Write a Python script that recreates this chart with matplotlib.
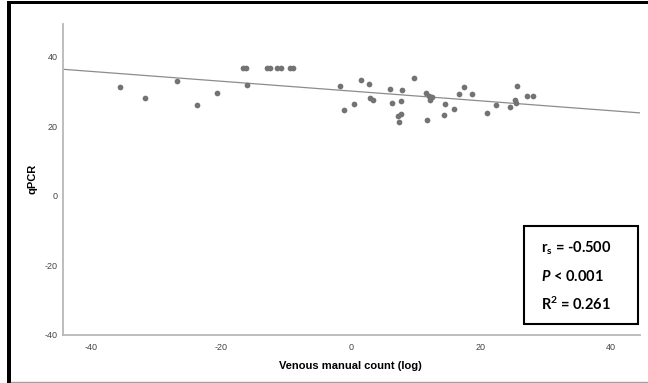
import numpy as np
import matplotlib.pyplot as plt
from matplotlib.patches import Rectangle
from matplotlib.lines import Line2D

# venous manual count (log) vs qPCR
venous = [-35.5, -31.7, -26.7, -23.7, -20.6, -16.6, -16.2, -16.0,
          -12.9, -12.4, -11.4, -10.7, -9.3, -8.9,
          -1.6, -1.1, 0.5, 1.6, 2.8, 3.0, 3.4, 6.0, 6.3, 7.8, 7.7, 7.7,
          7.2, 7.4, 9.7, 11.5, 12.0, 12.5, 12.2, 11.7, 14.5, 14.3, 15.8,
          16.7, 17.4, 18.7, 20.9, 22.4, 24.5, 25.2, 25.4, 25.6, 27.1, 28.1]
qpcr = [31.3, 28.1, 33.0, 26.0, 29.6, 36.6, 36.6, 31.9,
        36.6, 36.6, 36.6, 36.6, 36.6, 36.6,
        31.6, 24.7, 26.2, 33.2, 32.0, 28.0, 27.5, 30.6, 26.6, 30.4, 27.3, 23.4,
        23.0, 21.2, 33.9, 29.4, 28.6, 28.2, 27.6, 21.7, 26.2, 23.2, 25.0,
        29.3, 31.2, 29.3, 23.7, 25.9, 25.4, 27.5, 26.6, 31.4, 28.5, 28.7]

# fit line
slope = -0.141
intercept = 30.05

stats_lines = ["r$_\\mathrm{s}$ = -0.500", "$\\mathit{P}$ < 0.001", "R$^\\mathrm{2}$ = 0.261"]

plt.rcParams['axes.unicode_minus'] = False
plt.rcParams['mathtext.fontset'] = 'custom'
plt.rcParams['mathtext.rm'] = 'Lato:bold'
plt.rcParams['mathtext.it'] = 'Lato:bold:italic'
plt.rcParams['mathtext.bf'] = 'Lato:bold'

W, H = 648, 383
fig = plt.figure(figsize=(W / 100, H / 100), dpi=100)
ax = fig.add_axes([63 / W, 1 - 335 / H, (640 - 63) / W, (335 - 24) / H])

xlim = (-44.3, 44.5)
ax.set_xlim(*xlim)
ax.set_ylim(-40, 49.3)

xx = np.array(xlim)
ax.plot(xx, intercept + slope * xx, color='#8c8c8c', lw=0.9, zorder=2)
ax.scatter(venous, qpcr, s=17, color='#737373', linewidths=0, zorder=3)

for side in ['top', 'right']:
    ax.spines[side].set_visible(False)
for side in ['left', 'bottom']:
    ax.spines[side].set_color('#b8b8b8')
    ax.spines[side].set_linewidth(1.3)

ax.set_xticks([-40, -20, 0, 20, 40])
ax.set_yticks([-40, -20, 0, 20, 40])
ax.tick_params(length=0, labelsize=6.5, labelcolor='#444444', pad=4,
               labelfontfamily='Liberation Sans')
ax.tick_params(axis='x', pad=6)

fig.text(350 / W, 1 - 366 / H, 'Venous manual count (log)', ha='center', va='center',
         fontsize=8, fontweight='bold', family='Liberation Sans')
fig.text(33 / W, 1 - 179 / H, 'qPCR', ha='center', va='center', rotation=90,
         fontsize=8, fontweight='bold', family='Liberation Sans')

# stats box
fig.patches.append(Rectangle((524 / W, 1 - 324 / H), (638 - 524) / W, (324 - 226) / H,
                             transform=fig.transFigure, fill=False, ec='black', lw=1.5))
for i, s in enumerate(stats_lines):
    fig.text(541 / W, 1 - (252.7 + 28.7 * i) / H, s, ha='left', va='baseline',
             fontsize=10.5, fontweight='bold', family='Lato')

# frame edges
fig.patches.append(Rectangle((7 / W, 0), 4 / W, 1 - 1 / H, transform=fig.transFigure,
                             color='black', lw=0))
fig.patches.append(Rectangle((7 / W, 1 - 4.3 / H), 1, 3.3 / H, transform=fig.transFigure,
                             color='black', lw=0))
fig.lines.append(Line2D([11 / W, 1], [1 - 381.7 / H] * 2, transform=fig.transFigure,
                        color='#a0a0a0', lw=1))

fig.savefig('out.png', dpi=100)
